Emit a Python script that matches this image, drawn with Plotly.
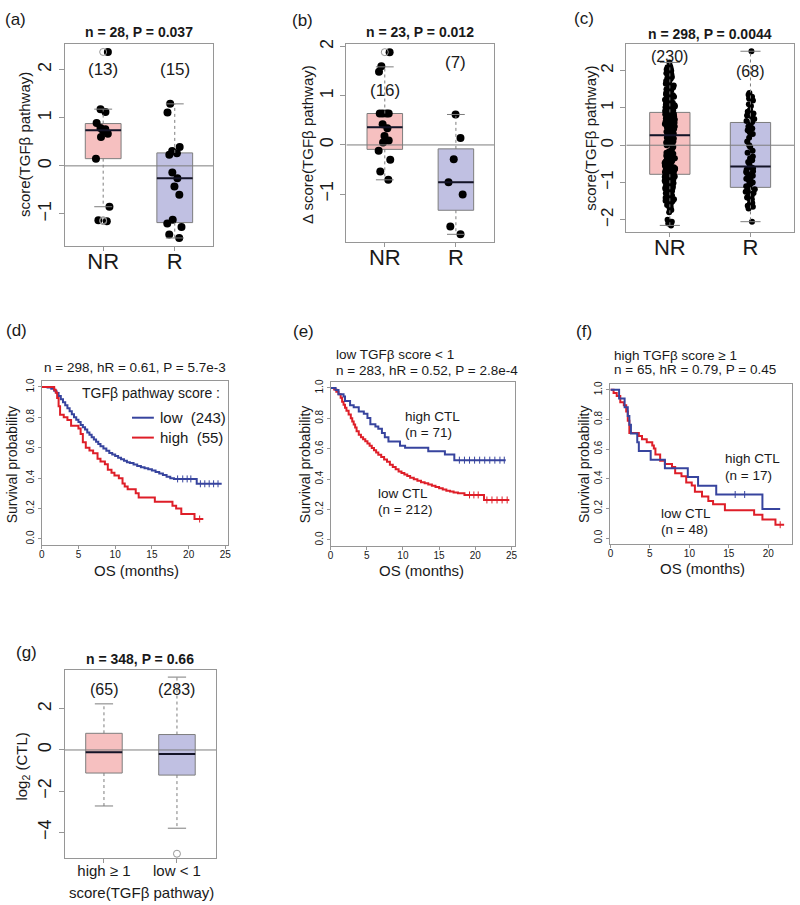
import plotly.graph_objects as go
import numpy as np

W, H = 800, 905
FONT = "Liberation Sans, Arial, sans-serif"

# ================= DATA =================
# (a) score(TGFb pathway), NR vs R
a_labels = ["NR", "R"]
a_counts = ["(13)", "(15)"]
a_nr = [2.37, 1.18, 1.12, 0.89, 0.79, 0.76, 0.74, 0.67, 0.60, 0.15, -0.85, -1.13, -1.15]
a_r = [1.29, 1.11, 0.39, 0.31, 0.26, 0.23, -0.14, -0.26, -0.43, -0.60, -1.12, -1.20, -1.27, -1.43, -1.50]
a_q1 = [0.15, -1.18]
a_med = [0.74, -0.26]
a_q3 = [0.88, 0.27]
a_lo = [-0.85, -1.50]
a_hi = [1.18, 1.29]
a_out = [[2.37, -1.13, -1.15], []]

# (b) delta score(TGFb pathway)
b_labels = ["NR", "R"]
b_counts = ["(16)", "(7)"]
b_nr = [1.89, 1.60, 1.49, 0.64, 0.64, 0.64, 0.64, 0.42, 0.34, 0.18, 0.09, 0.05, -0.12, -0.30, -0.54, -0.71]
b_r = [0.62, 0.14, -0.29, -0.76, -1.01, -1.66, -1.82]
b_q1 = [-0.09, -1.33]
b_med = [0.36, -0.76]
b_q3 = [0.64, -0.08]
b_lo = [-0.71, -1.82]
b_hi = [1.59, 0.62]
b_out = [[1.89], []]

# (c) score(TGFb pathway), large cohort
c_labels = ["NR", "R"]
c_counts = ["(230)", "(68)"]
c_nr = [
    0.88, 0.90, 0.92, 0.94, 0.95, 0.97, 0.99, 1.00, 1.02, 1.04, 1.05, 1.07, 1.09, 1.10, 1.12, 1.14, 1.15, 1.17, 1.19, 1.20,
    1.22, 1.24, 1.26, 1.28, 1.30, 1.32, 1.34, 1.36, 1.38, 1.40, 1.43, 1.45, 1.47, 1.50, 1.52, 1.55, 1.57, 1.60,
    1.62, 1.65, 1.68, 1.70, 1.72, 1.75, 1.78, 1.80, 1.83, 1.86, 1.90, 1.93, 1.97, 2.00, 2.03, 2.06, 2.09, 2.12, 2.22,
    0.27, 0.28, 0.30, 0.31, 0.32, 0.34, 0.35, 0.36, 0.38, 0.39, 0.40, 0.42, 0.43, 0.44, 0.46, 0.47, 0.48, 0.50, 0.51, 0.52,
    0.54, 0.55, 0.56, 0.57, 0.58, 0.60, 0.61, 0.62, 0.63, 0.64, 0.66, 0.67, 0.68, 0.69, 0.70, 0.71, 0.72, 0.73, 0.74, 0.75,
    0.76, 0.77, 0.78, 0.79, 0.80, 0.81, 0.82, 0.83, 0.84, 0.85, 0.86, 0.86, 0.87, 0.33, 0.45, 0.53, 0.65,
    0.25, 0.24, 0.22, 0.20, 0.18, 0.15, 0.12, 0.10, 0.07, 0.03, 0.00, -0.04,
    -0.08, -0.12, -0.16, -0.20, -0.23, -0.26, -0.28, -0.30,
    -0.32, -0.34, -0.35, -0.37, -0.38, -0.40, -0.41, -0.43, -0.44, -0.45, -0.47, -0.48, -0.50, -0.51, -0.52,
    -0.54, -0.55, -0.56, -0.58, -0.59, -0.60, -0.62, -0.63, -0.64, -0.65, -0.67, -0.68, -0.69, -0.70, -0.71,
    -0.72, -0.73, -0.74, -0.75, -0.76, -0.77, -0.78, -0.78,
    -0.80, -0.81, -0.82, -0.83, -0.84, -0.85, -0.86, -0.87, -0.88, -0.89, -0.90, -0.91, -0.92, -0.94, -0.95,
    -0.96, -0.98, -0.99, -1.00, -1.02, -1.03, -1.05, -1.06, -1.08, -1.09, -1.11, -1.13, -1.15,
    -1.17, -1.19, -1.21, -1.23, -1.25, -1.27, -1.29, -1.31, -1.33, -1.35, -1.37, -1.39, -1.41, -1.43, -1.45,
    -1.47, -1.49, -1.50, -1.53, -1.56, -1.60, -1.63, -1.66, -1.70, -1.74, -1.80,
    -2.00, -2.05, -2.10, -2.15,
]
c_r = [
    0.62, 0.65, 0.70, 0.75, 0.80, 0.85, 0.90, 0.95, 1.05, 1.10, 1.20, 1.25, 1.28, 1.30, 1.35, 1.40, 2.52,
    0.55, 0.50, 0.45, 0.40, 0.35, 0.30, 0.20, 0.10, 0.00, -0.05, -0.15, -0.20, -0.30, -0.35, -0.40, -0.45, -0.50,
    -0.60, -0.62, -0.65, -0.70, -0.72, -0.75, -0.80, -0.82, -0.85, -0.88, -0.90, -0.95, -0.98, -1.00, -1.05, -1.08, -1.10,
    -1.15, -1.18, -1.20, -1.25, -1.28, -1.30, -1.35, -1.40, -1.42, -1.45, -1.50, -1.55, -1.58, -1.62, -1.65, -1.70, -2.05,
]
c_q1 = [-0.78, -1.13]
c_med = [0.27, -0.57]
c_q3 = [0.88, 0.61]
c_lo = [-2.15, -2.05]
c_hi = [2.22, 2.52]
c_out = [[], []]

# (g) log2(CTL) by TGFb score
g_labels = ["high \u2265 1", "low &lt; 1"]
g_counts = ["(65)", "(283)"]
g_q1 = [-1.12, -1.22]
g_med = [-0.11, -0.20]
g_q3 = [0.81, 0.75]
g_lo = [-2.72, -3.80]
g_hi = [2.24, 3.54]
g_out = [[], [-5.04]]

# (d) KM by TGFb pathway score
d_low_t = [0, 0.8, 1.3, 1.7, 2.0, 2.3, 2.6, 2.9, 3.2, 3.5, 3.8, 4.1, 4.4, 4.7, 5.0, 5.3, 5.6, 5.9, 6.2, 6.5,
           6.8, 7.1, 7.4, 7.7, 8.0, 8.4, 8.8, 9.2, 9.6, 10.0, 10.4, 10.8, 11.2, 11.6, 12.0, 12.5, 13.0, 13.5,
           14.0, 14.5, 15.0, 15.5, 16.0, 16.5, 17.0, 17.5, 18.0, 21.1, 24.5]
d_low_s = [1.0, 0.996, 0.988, 0.975, 0.96, 0.94, 0.92, 0.90, 0.88, 0.86, 0.84, 0.82, 0.80, 0.785, 0.77, 0.75,
           0.735, 0.72, 0.70, 0.685, 0.67, 0.655, 0.64, 0.625, 0.61, 0.595, 0.58, 0.565, 0.555, 0.545, 0.535,
           0.525, 0.515, 0.505, 0.50, 0.49, 0.48, 0.472, 0.465, 0.458, 0.45, 0.44, 0.43, 0.42, 0.41, 0.40,
           0.395, 0.363, 0.363]
d_low_cens = [18.5, 19.2, 19.8, 20.3, 21.6, 22.2, 22.8, 23.4, 24.0]
d_high_t = [0, 1.7, 1.9, 2.1, 2.3, 2.5, 3.0, 3.5, 4.0, 5.0, 5.3, 5.6, 6.0, 6.5, 7.0, 7.6, 8.0, 8.6, 9.0, 9.5,
            9.9, 10.5, 11.0, 11.3, 11.7, 12.8, 13.2, 15.4, 17.8, 18.3, 19.0, 20.8, 22.0]
d_high_s = [1.0, 0.982, 0.964, 0.927, 0.873, 0.818, 0.80, 0.782, 0.745, 0.727, 0.691, 0.636, 0.60, 0.582,
            0.564, 0.527, 0.509, 0.491, 0.455, 0.436, 0.418, 0.40, 0.364, 0.345, 0.327, 0.30, 0.273, 0.245,
            0.218, 0.20, 0.164, 0.131, 0.131]
d_high_cens = [21.5]

# (e) KM low TGFb score, high vs low CTL
e_hi_t = [0, 0.7, 1.1, 1.8, 2.0, 2.7, 3.2, 3.9, 4.6, 5.1, 5.5, 6.2, 6.6, 7.1, 7.5, 8.0, 9.6, 10.3, 13.5, 15.8, 17.1, 24.2]
e_hi_s = [1.0, 0.986, 0.958, 0.944, 0.915, 0.887, 0.873, 0.845, 0.831, 0.803, 0.761, 0.746, 0.732, 0.704,
          0.676, 0.648, 0.62, 0.606, 0.584, 0.562, 0.525, 0.525]
e_hi_cens = [17.8, 18.5, 19.2, 19.9, 20.6, 21.3, 22.0, 22.7, 23.4, 24.0]
e_lo_t = [0, 0.5, 0.8, 1.1, 1.4, 1.6, 1.8, 2.0, 2.2, 2.5, 2.8, 3.0, 3.2, 3.4, 3.6, 3.9, 4.2, 4.5, 4.8, 5.1,
          5.4, 5.7, 6.0, 6.3, 6.6, 7.0, 7.4, 7.8, 8.2, 8.6, 9.0, 9.4, 9.8, 10.2, 10.6, 11.0, 11.5, 12.0, 12.5,
          13.0, 13.5, 14.0, 14.5, 15.0, 15.5, 16.0, 16.5, 17.0, 17.6, 18.5, 21.2, 24.7]
e_lo_s = [1.0, 0.99, 0.975, 0.958, 0.935, 0.91, 0.89, 0.87, 0.85, 0.826, 0.80, 0.78, 0.76, 0.74, 0.715,
          0.693, 0.675, 0.662, 0.65, 0.635, 0.62, 0.605, 0.59, 0.575, 0.56, 0.545, 0.53, 0.515, 0.495, 0.48,
          0.465, 0.45, 0.44, 0.43, 0.42, 0.41, 0.40, 0.39, 0.38, 0.373, 0.365, 0.357, 0.349, 0.34, 0.332,
          0.324, 0.318, 0.312, 0.307, 0.296, 0.263, 0.263]
e_lo_cens = [19.2, 19.8, 20.4, 21.6, 22.3, 23.0, 23.7, 24.4]

# (f) KM high TGFb score, high vs low CTL
f_hi_t = [0, 1.1, 1.8, 2.2, 2.4, 2.6, 3.4, 3.6, 5.1, 6.9, 9.8, 11.1, 13.4, 19.25, 21.5]
f_hi_s = [1.0, 0.941, 0.882, 0.824, 0.765, 0.706, 0.647, 0.588, 0.529, 0.471, 0.412, 0.353, 0.294, 0.196, 0.196]
f_hi_cens = [15.8, 17.0]
f_lo_t = [0, 0.4, 0.8, 1.25, 1.7, 2.0, 2.2, 2.4, 3.6, 4.0, 4.6, 5.3, 5.5, 5.7, 6.3, 6.9, 7.8, 8.2, 9.0, 9.6,
          10.3, 10.7, 11.6, 12.4, 13.0, 14.5, 18.2, 19.25, 20.9, 22.0]
f_lo_s = [1.0, 0.979, 0.958, 0.917, 0.896, 0.854, 0.792, 0.708, 0.688, 0.667, 0.646, 0.625, 0.604, 0.563,
          0.521, 0.50, 0.479, 0.438, 0.417, 0.375, 0.354, 0.313, 0.281, 0.25, 0.229, 0.188, 0.158, 0.125,
          0.09, 0.09]
f_lo_cens = [21.5]

# ================= STYLE =================
PINK = "rgb(246,192,192)"
LAV = "rgb(192,192,226)"
EDGE = "rgb(125,125,125)"
FRAME = "rgb(150,150,150)"
BLUE = "rgb(55,68,158)"
RED = "rgb(222,30,40)"
TXT = "rgb(25,25,25)"
BOXW = 0.5
CAP = 0.125
XR = [0.46, 2.54]

fig = go.Figure()

PANELS = {
    "a": dict(i=1, x=(62, 212), y=(39, 242)),
    "b": dict(i=2, x=(346, 495), y=(39, 238)),
    "c": dict(i=3, x=(628, 797), y=(39, 228)),
    "d": dict(i=4, x=(39, 227), y=(378, 543)),
    "e": dict(i=5, x=(330, 516), y=(379, 544)),
    "f": dict(i=6, x=(612, 795), y=(381, 542)),
    "g": dict(i=7, x=(62, 215), y=(669, 858)),
}


def ax_ids(p):
    i = PANELS[p]["i"]
    s = "" if i == 1 else str(i)
    return "x" + s, "y" + s, "xaxis" + s, "yaxis" + s


def base_axis(dom, **kw):
    d = dict(domain=dom, showline=True, mirror=True, linecolor=FRAME, linewidth=1,
             ticks="outside", tickcolor=FRAME, showgrid=False, zeroline=False,
             tickfont=dict(family=FONT, color=TXT))
    d.update(kw)
    return d


annotations = []


def ann(text, x, y, size, bold=False, xanchor="center", angle=0, color=TXT):
    if bold:
        text = "<b>" + text + "</b>"
    annotations.append(dict(text=text, x=x / W, y=1 - y / H, xref="paper", yref="paper",
                            xanchor=xanchor, yanchor="middle", showarrow=False, textangle=angle,
                            font=dict(family=FONT, size=size, color=color)))


def box_panel(p, labels, counts, count_y, count_size, q1, med, q3, lo, hi, outs, pts, yr, yticks,
              xtick_size, ytick_size, jit=0.5, msize=8, xstand=-8):
    xa, ya, xk, yk = ax_ids(p)
    fills = [PINK, LAV]
    pos = [1, 2]
    for k in range(2):
        c = pos[k]
        fig.add_trace(go.Box(x=[c], q1=[q1[k]], median=[med[k]], q3=[q3[k]],
                             lowerfence=[q1[k]], upperfence=[q3[k]], width=BOXW,
                             fillcolor=fills[k], line=dict(color=EDGE, width=1), whiskerwidth=0,
                             boxpoints=False, xaxis=xa, yaxis=ya, showlegend=False, hoverinfo="skip"))
        fig.add_trace(go.Scatter(x=[c, c, None, c, c], y=[q3[k], hi[k], None, q1[k], lo[k]], mode="lines",
                                 line=dict(color=EDGE, width=1, dash="dot"), xaxis=xa, yaxis=ya,
                                 showlegend=False, hoverinfo="skip"))
        fig.add_trace(go.Scatter(x=[c - CAP, c + CAP, None, c - CAP, c + CAP],
                                 y=[hi[k], hi[k], None, lo[k], lo[k]], mode="lines",
                                 line=dict(color=EDGE, width=1), xaxis=xa, yaxis=ya,
                                 showlegend=False, hoverinfo="skip"))
    fig.add_trace(go.Scatter(x=XR, y=[0, 0], mode="lines", line=dict(color=EDGE, width=1),
                             xaxis=xa, yaxis=ya, showlegend=False, hoverinfo="skip"))
    for k in range(2):
        c = pos[k]
        fig.add_trace(go.Scatter(x=[c - BOXW / 2, c + BOXW / 2], y=[med[k], med[k]], mode="lines",
                                 line=dict(color="rgb(20,20,40)", width=2), xaxis=xa, yaxis=ya,
                                 showlegend=False, hoverinfo="skip"))
        if outs[k]:
            fig.add_trace(go.Scatter(x=[c] * len(outs[k]), y=outs[k], mode="markers",
                                     marker=dict(symbol="circle-open", size=7, color="rgb(150,150,150)"),
                                     xaxis=xa, yaxis=ya, showlegend=False, hoverinfo="skip"))
        if pts is not None:
            fig.add_trace(go.Box(y=pts[k], x0=c, width=BOXW, boxpoints="all", jitter=jit, pointpos=0,
                                 fillcolor="rgba(0,0,0,0)", line=dict(width=0, color="rgba(0,0,0,0)"),
                                 whiskerwidth=0, marker=dict(color="black", size=msize),
                                 xaxis=xa, yaxis=ya, showlegend=False, hoverinfo="skip"))
        annotations.append(dict(text=counts[k], x=c, y=count_y[k], xref=xa, yref=ya, showarrow=False,
                                font=dict(family=FONT, size=count_size, color=TXT)))
    P = PANELS[p]
    fig.layout[xk] = base_axis([P["x"][0] / W, P["x"][1] / W], anchor=ya, type="linear", range=XR,
                               tickvals=pos, ticktext=labels, ticklen=4, ticklabelstandoff=xstand,
                               tickfont=dict(family=FONT, size=xtick_size, color=TXT))
    fig.layout[yk] = base_axis([1 - P["y"][1] / H, 1 - P["y"][0] / H], anchor=xa, range=yr,
                               tickvals=yticks, ticklen=5, tickangle=-90,
                               tickfont=dict(family=FONT, size=ytick_size, color=TXT))


def km_panel(p, curves, xr, xticks):
    xa, ya, xk, yk = ax_ids(p)
    for t, s, cens, col in curves:
        fig.add_trace(go.Scatter(x=t, y=s, mode="lines", line=dict(color=col, width=2, shape="hv"),
                                 xaxis=xa, yaxis=ya, showlegend=False, hoverinfo="skip"))
        if cens:
            idx = np.searchsorted(np.array(t), np.array(cens), side="right") - 1
            cy = np.array(s)[idx]
            fig.add_trace(go.Scatter(x=cens, y=cy, mode="markers",
                                     marker=dict(symbol="line-ns-open", size=5, color=col,
                                                 line=dict(color=col, width=1)),
                                     xaxis=xa, yaxis=ya, showlegend=False, hoverinfo="skip"))
    P = PANELS[p]
    fig.layout[xk] = base_axis([P["x"][0] / W, P["x"][1] / W], anchor=ya, range=xr, tickvals=xticks,
                               ticklen=3, ticklabelstandoff=-3,
                               tickfont=dict(family=FONT, size=10, color=TXT))
    fig.layout[yk] = base_axis([1 - P["y"][1] / H, 1 - P["y"][0] / H], anchor=xa, range=[-0.04, 1.04],
                               tickvals=[0, 0.2, 0.4, 0.6, 0.8, 1.0], tickformat=".1f", ticklen=3,
                               tickangle=-90, tickfont=dict(family=FONT, size=10, color=TXT))


# ---- box panels ----
box_panel("a", a_labels, a_counts, [2.0, 2.0], 17, a_q1, a_med, a_q3, a_lo, a_hi, a_out,
          [a_nr, a_r], [-1.66, 2.54], [-1, 0, 1, 2], 22, 18)
box_panel("b", b_labels, b_counts, [1.10, 1.68], 17, b_q1, b_med, b_q3, b_lo, b_hi, b_out,
          [b_nr, b_r], [-1.97, 2.06], [-1, 0, 1, 2], 22, 18)
box_panel("c", c_labels, c_counts, [2.37, 1.97], 16, c_q1, c_med, c_q3, c_lo, c_hi, c_out,
          [c_nr, c_r], [-2.32, 2.72], [-2, -1, 0, 1, 2], 22, 17, jit=0.26, msize=6)
box_panel("g", g_labels, g_counts, [2.95, 2.95], 16, g_q1, g_med, g_q3, g_lo, g_hi, g_out,
          None, [-5.26, 3.87], [-4, -2, 0, 2], 15, 18, xstand=-5)

# ---- KM panels ----
km_panel("d", [(d_low_t, d_low_s, d_low_cens, BLUE), (d_high_t, d_high_s, d_high_cens, RED)],
         [0, 25.4], [0, 5, 10, 15, 20, 25])
km_panel("e", [(e_lo_t, e_lo_s, e_lo_cens, RED), (e_hi_t, e_hi_s, e_hi_cens, BLUE)],
         [0, 25.5], [0, 5, 10, 15, 20, 25])
km_panel("f", [(f_lo_t, f_lo_s, f_lo_cens, RED), (f_hi_t, f_hi_s, f_hi_cens, BLUE)],
         [0, 23.0], [0, 5, 10, 15, 20])

# ---- texts ----
for lab, x, y in [("(a)", 13, 15), ("(b)", 302, 16), ("(c)", 585, 14), ("(d)", 14, 327),
                  ("(e)", 303, 328), ("(f)", 585, 328), ("(g)", 24, 651)]:
    ann(lab, x, y, 17)

ann("n = 28, P = 0.037", 137, 27, 14, bold=True)
ann("n = 23, P = 0.012", 420, 27, 14, bold=True)
ann("n = 298, P = 0.0044", 712, 29, 14, bold=True)
ann("n = 348, P = 0.66", 138, 658, 14, bold=True)

ann("score(TGF\u03b2 pathway)", 21, 140, 15, angle=-90)
ann("\u0394 score(TGF\u03b2 pathway)", 307, 140, 15, angle=-90)
ann("score(TGF\u03b2 pathway)", 592, 134, 15, angle=-90)
ann("log<sub>2</sub> (CTL)", 20, 766, 15, angle=-90)
ann("score(TGF\u03b2 pathway)", 140, 892, 15)

ann("n = 298, hR = 0.61, P = 5.7e-3", 133, 365, 13.5)
ann("low TGF\u03b2 score &lt; 1", 333, 351, 13.5, xanchor="left")
ann("n = 283, hR = 0.52, P = 2.8e-4", 333, 368, 13.5, xanchor="left")
ann("high TGF\u03b2 score \u2265 1", 614, 352, 13.5, xanchor="left")
ann("n = 65, hR = 0.79, P = 0.45", 614, 367, 13.5, xanchor="left")

for xc in [10, 305, 586]:
    ann("Survival probability", xc, 462, 14, angle=-90)
ann("OS (months)", 135, 569, 15)
ann("OS (months)", 422, 569, 15)
ann("OS (months)", 705, 567, 15)

ann("high CTL", 403, 414, 13.5, xanchor="left")
ann("(n = 71)", 403, 430, 13.5, xanchor="left")
ann("low CTL", 376, 491, 13.5, xanchor="left")
ann("(n = 212)", 376, 507, 13.5, xanchor="left")
ann("high CTL", 725, 456, 13.5, xanchor="left")
ann("(n = 17)", 725, 473, 13.5, xanchor="left")
ann("low CTL", 661, 511, 13.5, xanchor="left")
ann("(n = 48)", 661, 527, 13.5, xanchor="left")

ann("TGF\u03b2 pathway score :", 221, 390, 14, xanchor="right")
ann("low\u00a0\u00a0(243)", 156, 415, 15, xanchor="left")
ann("high\u00a0\u00a0(55)", 156, 435, 15, xanchor="left")
shapes = [
    dict(type="line", xref="paper", yref="paper", x0=130 / W, x1=152 / W, y0=1 - 415 / H, y1=1 - 415 / H,
         line=dict(color=BLUE, width=2)),
    dict(type="line", xref="paper", yref="paper", x0=130 / W, x1=152 / W, y0=1 - 435 / H, y1=1 - 435 / H,
         line=dict(color=RED, width=2)),
]

fig.update_layout(width=W, height=H, autosize=False, margin=dict(l=0, r=0, t=0, b=0),
                  paper_bgcolor="white", plot_bgcolor="white", showlegend=False,
                  boxmode="overlay", annotations=annotations, shapes=shapes,
                  font=dict(family=FONT, color=TXT))

fig.write_html("out.html", config={"displayModeBar": False},
               post_script="document.body.style.margin='0';document.body.style.overflow='hidden';")
